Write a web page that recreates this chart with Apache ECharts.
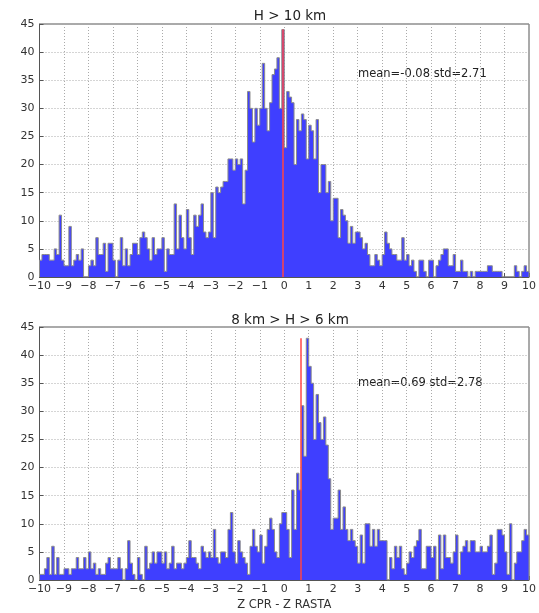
<!DOCTYPE html>
<html>
<head>
<meta charset="utf-8">
<script src="https://cdn.jsdelivr.net/npm/echarts@6/dist/echarts.min.js"></script>
<style>
  html, body { margin: 0; padding: 0; background: #fff; }
  #chart { width: 539px; height: 613px; }
</style>
</head>
<body>
<div id="chart"></div>
<script>
// histogram bins: 200 bins of 0.1 from -10 to 10
const binStart = -10;
const binWidth = 0.1;

const countsTop = [
  3, 4, 4, 4, 3, 3, 5, 4, 11, 3,
  2, 2, 9, 2, 3, 4, 3, 5, 0, 0,
  2, 3, 2, 7, 4, 4, 6, 1, 6, 6,
  3, 0, 3, 7, 2, 5, 2, 4, 6, 6,
  4, 7, 8, 7, 5, 3, 7, 4, 5, 5,
  7, 1, 5, 4, 4, 13, 5, 11, 7, 5,
  12, 7, 4, 11, 9, 11, 13, 8, 7, 8,
  15, 7, 16, 15, 16, 17, 17, 21, 21, 19,
  21, 20, 21, 13, 19, 33, 30, 24, 30, 27,
  30, 38, 30, 26, 31, 36, 37, 39, 30, 44,
  23, 33, 32, 31, 20, 28, 26, 29, 28, 21,
  27, 26, 21, 28, 15, 20, 20, 15, 17, 10,
  14, 14, 7, 12, 11, 10, 6, 9, 6, 8,
  8, 7, 5, 6, 4, 2, 2, 4, 3, 2,
  4, 8, 6, 5, 4, 4, 3, 3, 7, 3,
  4, 2, 3, 1, 0, 3, 3, 1, 0, 3,
  3, 0, 2, 3, 4, 5, 5, 2, 2, 4,
  1, 1, 3, 1, 1, 0, 1, 0, 1, 1,
  1, 1, 1, 2, 2, 1, 1, 1, 1, 0,
  0, 0, 0, 0, 2, 1, 0, 1, 2, 1
];

const countsBottom = [
  1, 1, 2, 4, 1, 6, 1, 4, 1, 1,
  2, 2, 1, 2, 2, 4, 2, 2, 4, 2,
  5, 2, 3, 1, 2, 1, 1, 3, 4, 2,
  2, 2, 4, 2, 0, 2, 7, 3, 1, 0,
  4, 1, 0, 6, 2, 3, 5, 3, 5, 5,
  3, 5, 2, 3, 6, 2, 3, 3, 2, 3,
  4, 7, 4, 4, 3, 2, 6, 5, 4, 5,
  4, 9, 4, 3, 5, 5, 4, 9, 12, 5,
  3, 7, 5, 4, 3, 1, 6, 9, 6, 5,
  8, 3, 6, 9, 11, 9, 5, 4, 10, 12,
  12, 9, 4, 16, 9, 19, 16, 31, 22, 43,
  38, 35, 25, 33, 28, 25, 29, 24, 18, 9,
  11, 11, 16, 9, 13, 9, 7, 9, 7, 6,
  3, 8, 3, 10, 10, 6, 9, 6, 9, 7,
  7, 7, 0, 4, 2, 6, 4, 6, 2, 1,
  3, 5, 4, 6, 7, 9, 2, 2, 6, 6,
  4, 6, 0, 8, 2, 8, 4, 4, 3, 5,
  8, 1, 5, 6, 7, 5, 7, 7, 5, 5,
  6, 5, 5, 6, 8, 1, 3, 9, 9, 8,
  5, 1, 10, 0, 3, 5, 5, 7, 9, 8
];

const panelTitles = ["H > 10 km", "8 km > H > 6 km"];
const means = [-0.08, 0.69];
const stds = [2.71, 2.78];
const xLabel = "Z CPR - Z RASTA";

const FONT = "DejaVu Sans";

// outline points for a filled step histogram
const stepPoints = (counts) => {
  const pts = [[binStart, 0]];
  counts.forEach((c, i) => {
    pts.push([Math.round((binStart + i * binWidth) * 10) / 10, c]);
  });
  const end = Math.round((binStart + counts.length * binWidth) * 10) / 10;
  pts.push([end, counts[counts.length - 1]]);
  pts.push([end, 0]);
  return pts;
};

const minus = (v) => String(v).replace("-", "\u2212");

const makeXAxis = (gridIndex, withName) => ({
  type: "value",
  gridIndex: gridIndex,
  min: -10,
  max: 10,
  interval: 1,
  name: withName ? xLabel : "",
  nameLocation: "middle",
  nameGap: 19,
  nameTextStyle: { fontFamily: FONT, fontSize: 11.5, color: "#333" },
  axisLine: { show: true, onZero: false, lineStyle: { color: "#555" } },
  axisTick: { show: true, inside: true, length: 4, lineStyle: { color: "#555" } },
  axisLabel: {
    formatter: minus,
    fontFamily: FONT,
    fontSize: 11,
    color: "#333",
    margin: 4,
  },
  splitLine: { show: true, lineStyle: { type: [1, 2], color: "#aaa" } },
});

const makeYAxis = (gridIndex) => ({
  type: "value",
  gridIndex: gridIndex,
  min: 0,
  max: 45,
  interval: 5,
  axisLine: { show: true, onZero: false, lineStyle: { color: "#555" } },
  axisTick: { show: true, inside: true, length: 4, lineStyle: { color: "#555" } },
  axisLabel: { fontFamily: FONT, fontSize: 11, color: "#333", margin: 5 },
  splitLine: { show: true, lineStyle: { type: [1, 2], color: "#aaa" } },
});

const makeSeries = (idx, counts) => ({
  type: "line",
  xAxisIndex: idx,
  yAxisIndex: idx,
  step: "end",
  data: stepPoints(counts),
  showSymbol: false,
  symbol: "none",
  lineStyle: { color: "#8c8c8c", width: 1 },
  areaStyle: { color: "#3f3fff", opacity: 1 },
  markLine: {
    silent: true,
    symbol: "none",
    label: { show: false },
    lineStyle: { color: "rgba(255,70,70,0.75)", width: 2, type: "solid" },
    data: [[{ coord: [means[idx], 0] }, { coord: [means[idx], Math.max(...counts)] }]],
  },
});

const getOption = () => {
  return {
    animation: false,
    backgroundColor: "#fff",
    title: panelTitles.map((t, i) => ({
      text: t,
      left: 285,
      top: i === 0 ? 4 : 308,
      textAlign: "center",
      textStyle: { fontFamily: FONT, fontSize: 13.5, fontWeight: "normal", color: "#222" },
    })),
    grid: [
      { left: 39.5, top: 24, width: 491, height: 253, show: true, borderColor: "#555", borderWidth: 1 },
      { left: 39.5, top: 327, width: 491, height: 253, show: true, borderColor: "#555", borderWidth: 1 },
    ],
    xAxis: [makeXAxis(0, false), makeXAxis(1, true)],
    yAxis: [makeYAxis(0), makeYAxis(1)],
    graphic: [0, 1].map((i) => ({
      type: "text",
      left: 358,
      top: i === 0 ? 68 : 377,
      style: {
        text: "mean=" + means[i].toFixed(2) + " std=" + stds[i].toFixed(2),
        font: "11.5px " + FONT,
        fill: "#222",
      },
    })),
    series: [makeSeries(0, countsTop), makeSeries(1, countsBottom)],
  };
};

window.addEventListener("load", () => {
  const chart = echarts.init(document.getElementById("chart"));
  chart.setOption(getOption());
});
</script>
</body>
</html>
